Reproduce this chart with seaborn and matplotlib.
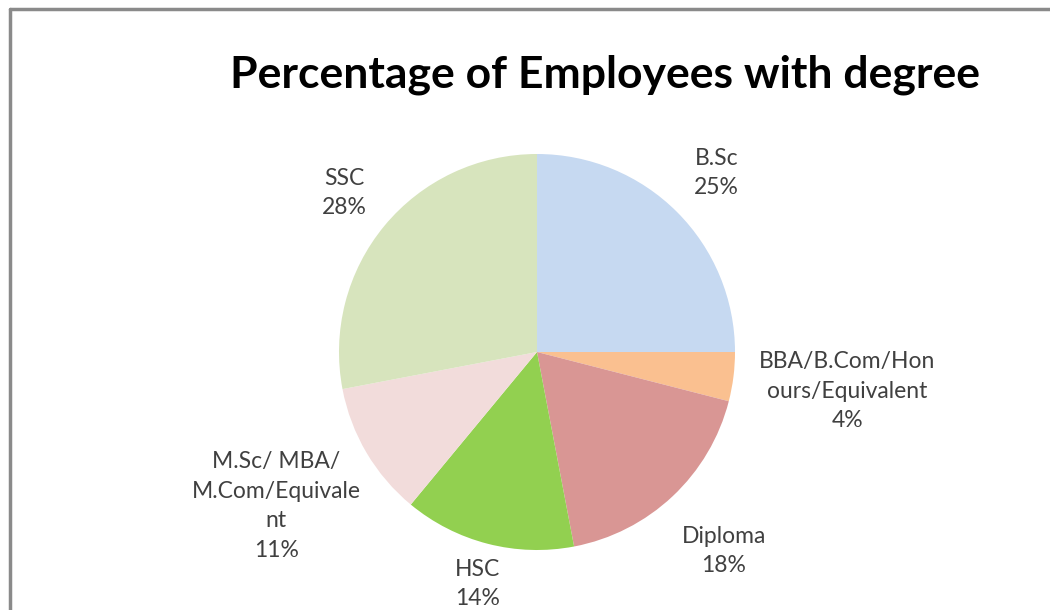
import matplotlib
matplotlib.use("Agg")
import matplotlib.pyplot as plt
from matplotlib.lines import Line2D
import numpy as np
import seaborn as sns

# Employee qualification shares (percent)
categories = ["B.Sc", "BBA/B.Com/Hon\nours/Equivalent", "Diploma", "HSC",
              "M.Sc/ MBA/\nM.Com/Equivale\nnt", "SSC"]
shares = [25, 4, 18, 14, 11, 28]
slice_colors = ["#c6d9f1", "#fac090", "#d99694", "#92d050", "#f2dcdb", "#d7e4bd"]
title = "Percentage of Employees with degree"

# radial distance of each label (in pie radii)
label_dist = [1.28, 1.58, 1.38, 1.21, 1.53, 1.26]

sns.set_theme(style="white")
plt.rcParams["font.family"] = ["Lato", "DejaVu Sans"]

palette = sns.color_palette(slice_colors)

fig = plt.figure(figsize=(10.5, 6.1), dpi=100)
fig.patch.set_facecolor("white")

W, H = 1050, 610
cx, cy, r = 537, 352, 198
ax = fig.add_axes([(cx - r) / W, (H - cy - r) / H, 2 * r / W, 2 * r / H])

wedges, _ = ax.pie(shares, colors=palette, startangle=90, counterclock=False,
                   radius=1.0, wedgeprops=dict(linewidth=0))
ax.set_xlim(-1, 1)
ax.set_ylim(-1, 1)
ax.axis("off")

for w, cat, val, d in zip(wedges, categories, shares, label_dist):
    mid = np.deg2rad((w.theta1 + w.theta2) / 2)
    ax.text(d * np.cos(mid), d * np.sin(mid), f"{cat}\n{val}%",
            ha="center", va="center", fontsize=16.5, color="#404040",
            linespacing=1.5, clip_on=False)

fig.text(605 / W, 1 - 75 / H, title, ha="center", va="center",
         fontsize=32, fontweight="bold", color="black")

# outer frame (top and left edges)
fig.add_artist(Line2D([10 / W, 1.0], [1 - 9 / H, 1 - 9 / H], transform=fig.transFigure,
                      color="#8a8a8a", linewidth=2.5))
fig.add_artist(Line2D([10 / W, 10 / W], [0.0, 1 - 9 / H], transform=fig.transFigure,
                      color="#8a8a8a", linewidth=2.5))

fig.savefig("out.png", dpi=100, facecolor="white")
